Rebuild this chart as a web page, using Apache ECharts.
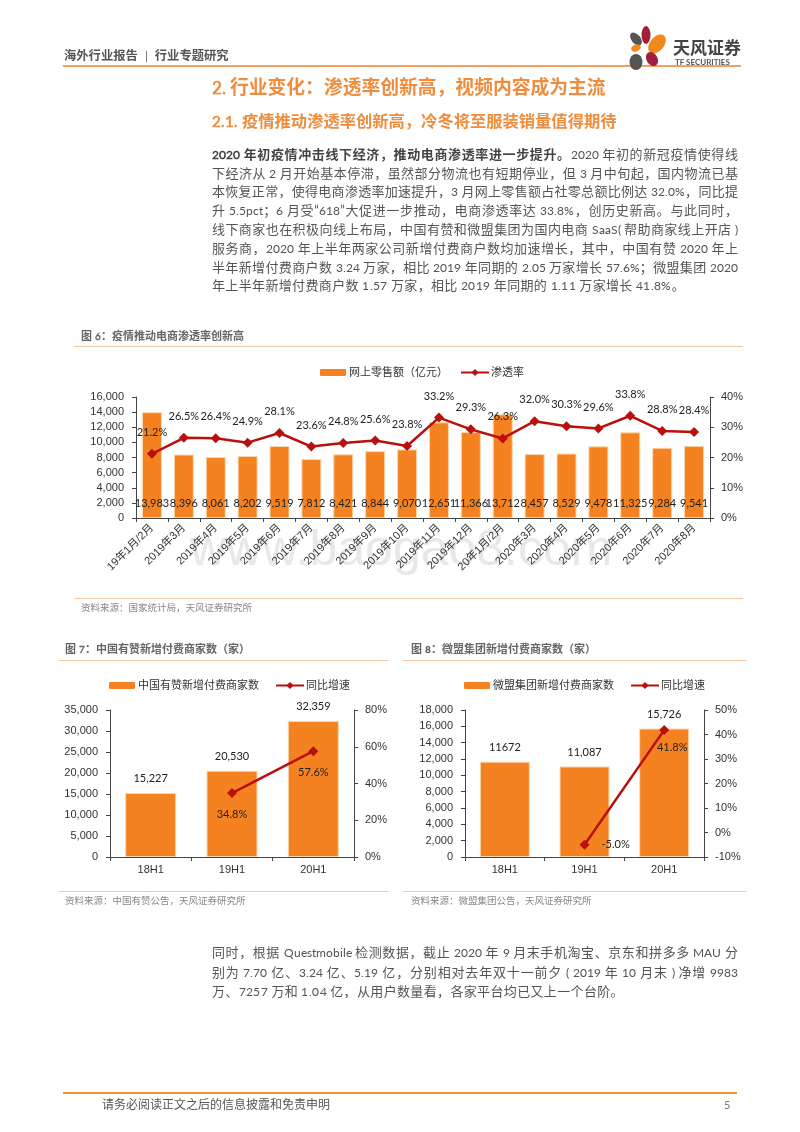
<!DOCTYPE html>
<html>
<head>
<meta charset="utf-8">
<script src="https://cdn.jsdelivr.net/npm/echarts@6/dist/echarts.min.js"></script>
<style>
@font-face{font-family:"BodyLatin";src:local("Lato Regular"),local("Lato-Regular"),local("Lato");size-adjust:90%;unicode-range:U+0020-007E;}
html,body{margin:0;padding:0;background:#fff;}
#page{position:relative;width:800px;height:1132px;overflow:hidden;font-family:"BodyLatin","Lato","Noto Sans CJK SC",sans-serif;}
#main{position:absolute;left:0;top:0;width:800px;height:1132px;}
.t{position:absolute;white-space:nowrap;line-height:1;}
.line{position:absolute;left:212px;width:526px;height:19px;line-height:19px;font-size:13px;color:#555;text-align:justify;text-align-last:justify;white-space:normal;}
.line.last{text-align-last:left;letter-spacing:.35px;}
.line b{color:#444;}
.rule{position:absolute;}
.figt{color:#666;font-weight:bold;font-size:11px;}
.src{color:#888;font-size:9.5px;}
</style>
</head>
<body>
<div id="page">
  <div id="main"></div>

  <div class="t" style="left:64px;top:50px;font-size:12.3px;font-weight:bold;color:#555;">海外行业报告<span style="padding:0 7px;font-weight:normal;">|</span>行业专题研究</div>
  <div class="rule" style="left:63px;top:65px;width:678px;height:2px;background:#f0a060;"></div>
  <svg style="position:absolute;left:625px;top:24px;" width="48" height="48" viewBox="0 0 48 48">
    <ellipse cx="21" cy="11" rx="4.5" ry="9" fill="#a01f3c"/>
    <ellipse cx="32" cy="20" rx="7" ry="11" fill="#f08a1d" transform="rotate(40 32 20)"/>
    <ellipse cx="11" cy="15" rx="4.5" ry="7.5" fill="#555" transform="rotate(-40 11 15)"/>
    <ellipse cx="11" cy="24" rx="5" ry="3.5" fill="#f08a1d" transform="rotate(-20 11 24)"/>
    <ellipse cx="27" cy="35" rx="5.5" ry="7.5" fill="#a01f3c" transform="rotate(-30 27 35)"/>
    <ellipse cx="11" cy="38" rx="6.5" ry="8" fill="#555"/>
  </svg>
  <div class="t" style="left:673px;top:40px;font-size:17px;font-weight:bold;color:#444;">天风证券</div>
  <div class="t" style="left:675px;top:58px;font-size:8px;font-weight:bold;color:#555;font-family:Lato;">TF SECURITIES</div>

  <div class="t" style="left:212px;top:79px;font-size:18.8px;font-weight:bold;color:#ee8d3e;">2. 行业变化：渗透率创新高，视频内容成为主流</div>
  <div class="t" style="left:212px;top:114px;font-size:16.3px;font-weight:bold;color:#ee8d3e;">2.1. 疫情推动渗透率创新高，冷冬将至服装销量值得期待</div>

  <div class="line" style="top:145px;"><b>2020 年初疫情冲击线下经济，推动电商渗透率进一步提升。</b>2020 年初的新冠疫情使得线</div>
  <div class="line" style="top:164px;">下经济从 2 月开始基本停滞，虽然部分物流也有短期停业，但 3 月中旬起，国内物流已基</div>
  <div class="line" style="top:182px;">本恢复正常，使得电商渗透率加速提升，3 月网上零售额占社零总额比例达 32.0%，同比提</div>
  <div class="line" style="top:201px;">升 5.5pct；6 月受“618”大促进一步推动，电商渗透率达 33.8%，创历史新高。与此同时，</div>
  <div class="line" style="top:220px;">线下商家也在积极向线上布局，中国有赞和微盟集团为国内电商 SaaS( 帮助商家线上开店 )</div>
  <div class="line" style="top:239px;">服务商，2020 年上半年两家公司新增付费商户数均加速增长，其中，中国有赞 2020 年上</div>
  <div class="line" style="top:258px;">半年新增付费商户数 3.24 万家，相比 2019 年同期的 2.05 万家增长 57.6%；微盟集团 2020</div>
  <div class="line last" style="top:276px;">年上半年新增付费商户数 1.57 万家，相比 2019 年同期的 1.11 万家增长 41.8%。</div>

  <div class="t figt" style="left:81px;top:331px;">图 6：疫情推动电商渗透率创新高</div>
  <div class="rule" style="left:74px;top:346px;width:669px;height:1px;background:#f4c9a2;"></div>
  <div class="rule" style="left:74px;top:598px;width:669px;height:1px;background:#f4c9a2;"></div>
  <div class="t src" style="left:81px;top:604px;">资料来源：国家统计局，天风证券研究所</div>

  <div class="t figt" style="left:65px;top:644px;">图 7：中国有赞新增付费商家数（家）</div>
  <div class="rule" style="left:58px;top:660px;width:330px;height:1px;background:#f4c9a2;"></div>
  <div class="rule" style="left:58px;top:891px;width:330px;height:1px;background:#f4c9a2;"></div>
  <div class="t src" style="left:65px;top:897px;">资料来源：中国有赞公告，天风证券研究所</div>

  <div class="t figt" style="left:411px;top:644px;">图 8：微盟集团新增付费商家数（家）</div>
  <div class="rule" style="left:403px;top:660px;width:343px;height:1px;background:#f4c9a2;"></div>
  <div class="rule" style="left:403px;top:891px;width:343px;height:1px;background:#f4c9a2;"></div>
  <div class="t src" style="left:411px;top:897px;">资料来源：微盟集团公告，天风证券研究所</div>

  <div class="line" style="top:943px;">同时，根据 Questmobile 检测数据，截止 2020 年 9 月末手机淘宝、京东和拼多多 MAU 分</div>
  <div class="line" style="top:963px;">别为 7.70 亿、3.24 亿、5.19 亿，分别相对去年双十一前夕 ( 2019 年 10 月末 ) 净增 9983</div>
  <div class="line last" style="top:982px;">万、7257 万和 1.04 亿，从用户数量看，各家平台均已又上一个台阶。</div>

  <div class="rule" style="left:63px;top:1092px;width:674px;height:2px;background:#e8962e;"></div>
  <div class="t" style="left:102px;top:1099px;font-size:12px;color:#555;">请务必阅读正文之后的信息披露和免责申明</div>
  <div class="t" style="left:724px;top:1099px;font-size:12px;color:#777;">5</div>
</div>

<script>
// 图6 网上零售额与渗透率
var months = ['19年1月/2月','2019年3月','2019年4月','2019年5月','2019年6月','2019年7月','2019年8月','2019年9月','2019年10月','2019年11月','2019年12月','20年1月/2月','2020年3月','2020年4月','2020年5月','2020年6月','2020年7月','2020年8月'];
var retailSales = [13983,8396,8061,8202,9519,7812,8421,8844,9070,12651,11366,13712,8457,8529,9478,11325,9284,9541];
var penetration = [21.2,26.5,26.4,24.9,28.1,23.6,24.8,25.6,23.8,33.2,29.3,26.3,32.0,30.3,29.6,33.8,28.8,28.4];

// 图7 中国有赞
var halfYears = ['18H1','19H1','20H1'];
var youzanMerchants = [15227,20530,32359];
var youzanGrowth = [null,34.8,57.6];

// 图8 微盟集团
var weimobMerchants = [11672,11087,15726];
var weimobBarLabels = ['11672','11,087','15,726'];
var weimobGrowth = [null,-5.0,41.8];

var ORANGE = '#f58220';
var EDGE = '#fbd8ad';
var RED = '#b8100c';
var AXIS = '#444';
var NUM_FONT = 'Lato';
var NUM_SIZE = 11;
var AXIS_FONT = '"Liberation Sans","Noto Sans CJK SC"';
var CJK_FONT = '"Liberation Sans","Noto Sans CJK SC"';

function comma(v){
    return String(v).replace(/\B(?=(\d{3})+$)/g, ',');
}
function pct(v){
    return v.toFixed(1) + '%';
}
function catAxis(gridIndex, data, extra){
    var ax = {
        type: 'category', gridIndex: gridIndex, data: data,
        axisLine: {lineStyle: {color: AXIS}},
        axisTick: {show: true, alignWithLabel: false, length: 4, lineStyle: {color: AXIS}},
        axisLabel: {color: '#333', fontSize: 11, fontFamily: CJK_FONT, interval: 0, margin: 7}
    };
    for (var k in extra) ax.axisLabel[k] = extra[k];
    return ax;
}
function valAxis(gridIndex, min, max, interval, right){
    return {
        type: 'value', gridIndex: gridIndex, min: min, max: max, interval: interval,
        position: right ? 'right' : 'left',
        splitLine: {show: false},
        axisLine: {show: true, lineStyle: {color: AXIS}},
        axisTick: {show: true, length: 4, lineStyle: {color: AXIS}},
        axisLabel: {
            color: '#333', fontSize: 11, fontFamily: AXIS_FONT, margin: right ? 11 : 12,
            formatter: right ? '{value}%' : function(v){ return comma(v); }
        }
    };
}
function legend(left, top, barName, lineName, gap){
    return {
        left: left, top: top, itemWidth: 28, itemHeight: 9, itemGap: gap,
        padding: 0,
        data: [{name: barName, itemStyle: {borderColor: '#fff', borderWidth: 2}}, {name: lineName}],
        textStyle: {color: '#333', fontSize: 11, fontFamily: CJK_FONT, padding: [0, 0, 0, -3]}
    };
}
function lineSeries(name, data, xi, yi, label){
    return {
        name: name, type: 'line', xAxisIndex: xi, yAxisIndex: yi, data: data,
        symbol: 'diamond', symbolSize: 10, connectNulls: false,
        lineStyle: {color: RED, width: 2.5},
        itemStyle: {color: RED},
        label: label, z: 5
    };
}

var myChart = echarts.init(document.getElementById('main'), null, {renderer: 'canvas'});

var option = {
    animation: false,
    graphic: [{
        type: 'text', left: 190, top: 526, z: -1, silent: true,
        style: {text: 'www.baogao8.com', font: '50px "Liberation Sans"', fill: '#e8e8e8'}
    }],
    legend: [
        legend(318, 367, '网上零售额（亿元）', '渗透率', 12),
        legend(107, 680, '中国有赞新增付费商家数', '同比增速', 16),
        legend(462, 680, '微盟集团新增付费商家数', '同比增速 ', 16)
    ],
    grid: [
        {left: 136, top: 397, width: 574, height: 121},
        {left: 110, top: 710, width: 244, height: 147},
        {left: 465, top: 710, width: 239, height: 147}
    ],
    xAxis: [
        catAxis(0, months, {rotate: 45, margin: 8}),
        catAxis(1, halfYears),
        catAxis(2, halfYears)
    ],
    yAxis: [
        valAxis(0, 0, 16000, 2000, false),
        valAxis(0, 0, 40, 10, true),
        valAxis(1, 0, 35000, 5000, false),
        valAxis(1, 0, 80, 20, true),
        valAxis(2, 0, 18000, 2000, false),
        valAxis(2, -10, 50, 10, true)
    ],
    series: [
        {
            name: '网上零售额（亿元）', type: 'bar', xAxisIndex: 0, yAxisIndex: 0, data: retailSales, barWidth: 20,
            itemStyle: {color: ORANGE, borderColor: EDGE, borderWidth: 1},
            label: {
                show: true, position: 'insideBottom', distance: 9, color: '#222', fontSize: NUM_SIZE, fontFamily: NUM_FONT,
                formatter: function(p){ return comma(p.value); }
            }
        },
        lineSeries('渗透率', penetration, 0, 1, {
            show: true, position: 'top', distance: 11, color: '#222', fontSize: NUM_SIZE, fontFamily: NUM_FONT,
            formatter: function(p){ return pct(p.value); }
        }),
        {
            name: '中国有赞新增付费商家数', type: 'bar', xAxisIndex: 1, yAxisIndex: 2, data: youzanMerchants, barWidth: 51,
            itemStyle: {color: ORANGE, borderColor: EDGE, borderWidth: 1},
            label: {
                show: true, position: 'top', distance: 9, color: '#222', fontSize: NUM_SIZE, fontFamily: NUM_FONT,
                formatter: function(p){ return comma(p.value); }
            }
        },
        lineSeries('同比增速', youzanGrowth, 1, 3, {
            show: true, position: 'bottom', distance: 11, color: '#222', fontSize: NUM_SIZE, fontFamily: NUM_FONT,
            formatter: function(p){ return pct(p.value); }
        }),
        {
            name: '微盟集团新增付费商家数', type: 'bar', xAxisIndex: 2, yAxisIndex: 4, data: weimobMerchants, barWidth: 50,
            itemStyle: {color: ORANGE, borderColor: EDGE, borderWidth: 1},
            label: {
                show: true, position: 'top', distance: 9, color: '#222', fontSize: NUM_SIZE, fontFamily: NUM_FONT,
                formatter: function(p){ return weimobBarLabels[p.dataIndex]; }
            }
        },
        lineSeries('同比增速 ', weimobGrowth.map(function(v, i){
            if (i === 1) return {value: v, label: {position: 'right', distance: 12}};
            if (i === 2) return {value: v, label: {position: 'bottom', distance: 7, offset: [8, 0]}};
            return v;
        }), 2, 5, {
            show: true, color: '#222', fontSize: NUM_SIZE, fontFamily: NUM_FONT,
            formatter: function(p){ return pct(p.value); }
        })
    ]
};

myChart.setOption(option);
</script>
</body>
</html>
